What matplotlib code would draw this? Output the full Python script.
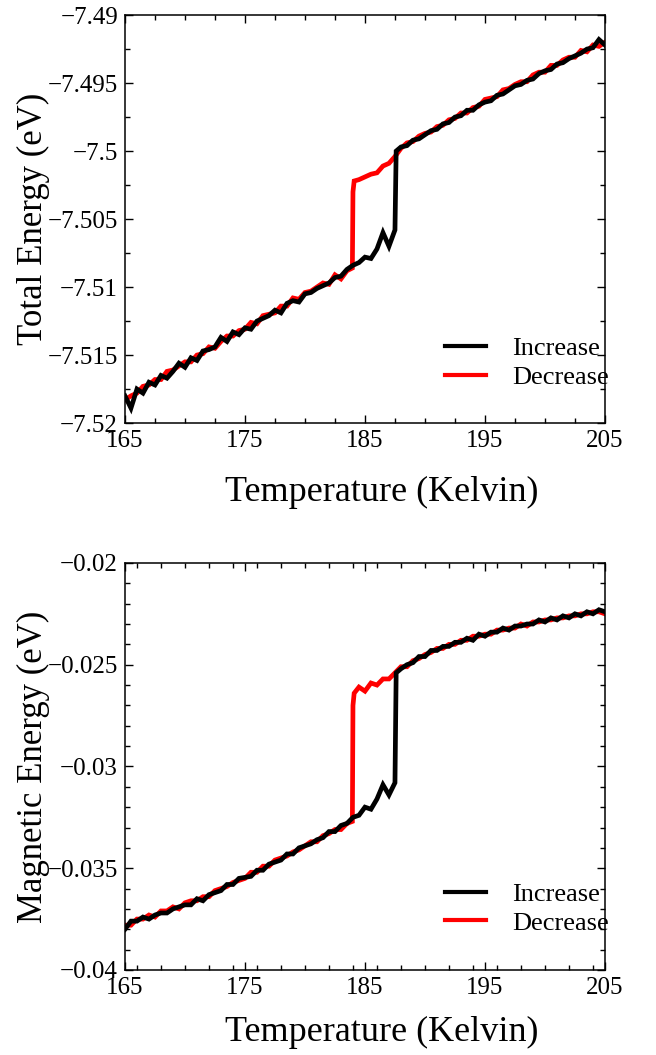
import matplotlib
matplotlib.use("Agg")
import matplotlib.pyplot as plt
import numpy as np
from matplotlib.ticker import MultipleLocator, FuncFormatter

plt.rcParams['font.family'] = ['Liberation Serif', 'DejaVu Serif']

# temperature grids (K)
t_low_inc = np.arange(165.0, 188.0, 0.5)          # 165 .. 187.5
t_up_inc = np.arange(188.0, 205.5, 0.5)           # 188 .. 205
t_jump_inc = 187.6

t_low_dec = np.arange(165.0, 184.0, 0.5)          # 165 .. 183.5
t_mid_dec = [183.95, 184.0, 184.1, 184.5, 185.0, 185.5, 186.0, 186.5, 187.0, 187.5]
t_up_dec = np.arange(188.0, 205.5, 0.5)

# ---- total energy (eV) ----
e_inc_low = [-7.5180, -7.5189, -7.5175, -7.5178, -7.5170, -7.5172, -7.5165, -7.5167,
             -7.5162, -7.5156, -7.5159, -7.5152, -7.5154, -7.5147, -7.5146, -7.5144,
             -7.5137, -7.5140, -7.5133, -7.5135, -7.5130, -7.5131, -7.5125, -7.5123,
             -7.5121, -7.5117, -7.5119, -7.5112, -7.5110, -7.5111, -7.5105, -7.5104,
             -7.5101, -7.5099, -7.5097, -7.5093, -7.5092, -7.5087, -7.5084, -7.5082,
             -7.5078, -7.5079, -7.5072, -7.5060, -7.5070, -7.5058]
e_inc_jump = -7.5000
e_inc_up = [-7.4997, -7.4996, -7.4992, -7.4991, -7.4988, -7.4985, -7.4984, -7.4980,
            -7.4979, -7.4975, -7.4974, -7.4970, -7.4970, -7.4966, -7.4964, -7.4963,
            -7.4959, -7.4958, -7.4955, -7.4952, -7.4951, -7.4948, -7.4947, -7.4943,
            -7.4941, -7.4940, -7.4936, -7.4935, -7.4932, -7.4930, -7.4928, -7.4925,
            -7.4924, -7.4918, -7.4922]

e_dec_low = [-7.5183, -7.5180, -7.5178, -7.5173, -7.5172, -7.5168, -7.5168, -7.5162,
             -7.5161, -7.5158, -7.5155, -7.5155, -7.5150, -7.5149, -7.5144, -7.5145,
             -7.5140, -7.5136, -7.5136, -7.5132, -7.5131, -7.5126, -7.5127, -7.5121,
             -7.5120, -7.5119, -7.5114, -7.5114, -7.5108, -7.5109, -7.5104, -7.5103,
             -7.5100, -7.5097, -7.5098, -7.5091, -7.5094, -7.5088]
e_dec_mid = [-7.5086, -7.5030, -7.5022, -7.5021, -7.5019, -7.5017, -7.5016, -7.5011,
             -7.5009, -7.5004]
e_dec_up = [-7.4998, -7.4994, -7.4993, -7.4989, -7.4987, -7.4986, -7.4982, -7.4981,
            -7.4977, -7.4976, -7.4972, -7.4972, -7.4968, -7.4967, -7.4962, -7.4961,
            -7.4960, -7.4955, -7.4954, -7.4951, -7.4949, -7.4949, -7.4944, -7.4942,
            -7.4942, -7.4937, -7.4937, -7.4933, -7.4931, -7.4931, -7.4926, -7.4927,
            -7.4922, -7.4923, -7.4920]

# ---- magnetic energy (eV) ----
m_inc_low = [-0.0380, -0.0376, -0.0376, -0.0374, -0.0375, -0.0373, -0.0372, -0.0372,
             -0.0370, -0.0369, -0.0368, -0.0368, -0.0365, -0.0366, -0.0363, -0.0362,
             -0.0361, -0.0358, -0.0358, -0.0355, -0.03545, -0.0354, -0.0351, -0.0351,
             -0.0348, -0.0347, -0.0346, -0.0343, -0.0343, -0.0340, -0.0339, -0.0338,
             -0.0336, -0.0335, -0.0332, -0.0332, -0.0329, -0.0328, -0.0325, -0.0324,
             -0.0320, -0.0321, -0.0316, -0.0309, -0.0314, -0.0308]
m_inc_jump = -0.0254
m_inc_up = [-0.0252, -0.0250, -0.0249, -0.0246, -0.0246, -0.0243, -0.0243, -0.0241,
            -0.0241, -0.0239, -0.0239, -0.0237, -0.0238, -0.0235, -0.0236, -0.0234,
            -0.0234, -0.0232, -0.0233, -0.0231, -0.0231, -0.0230, -0.0230, -0.0228,
            -0.0229, -0.0227, -0.0228, -0.0226, -0.0227, -0.0225, -0.0226, -0.0224,
            -0.0225, -0.0223, -0.0224]

m_dec_low = [-0.0378, -0.0378, -0.0375, -0.0375, -0.0373, -0.0374, -0.0371, -0.0371,
             -0.0369, -0.0370, -0.0367, -0.0366, -0.0366, -0.0364, -0.0364, -0.0361,
             -0.0360, -0.0359, -0.0357, -0.0356, -0.0355, -0.0352, -0.0352, -0.0349,
             -0.0349, -0.0346, -0.0345, -0.0344, -0.0342, -0.0341, -0.0339, -0.0337,
             -0.0337, -0.0334, -0.0333, -0.0331, -0.0331, -0.0328]
m_dec_mid = [-0.0327, -0.0270, -0.0264, -0.0261, -0.0263, -0.0259, -0.0260, -0.0257,
             -0.0257, -0.0254]
m_dec_up = [-0.0251, -0.0251, -0.0248, -0.0247, -0.0245, -0.0244, -0.0242, -0.0242,
            -0.0240, -0.0240, -0.0238, -0.0238, -0.0236, -0.0236, -0.0235, -0.0235,
            -0.0233, -0.0233, -0.0232, -0.0232, -0.0230, -0.0231, -0.0229, -0.0229,
            -0.0228, -0.0228, -0.0227, -0.0227, -0.0226, -0.0226, -0.0225, -0.0225,
            -0.0224, -0.0224, -0.0225]

x_ticks = [165, 175, 185, 195, 205]


def fmt(v, pos):
    return ("%g" % round(v, 6)).replace("-", "\u2212")


def panel(ax, inc, dec, ylim, ystep, yminor, xminor, ylabel, leg_y, xpad):
    t_inc = np.concatenate([t_low_inc, [t_jump_inc], t_up_inc])
    t_dec = np.concatenate([t_low_dec, t_mid_dec, t_up_dec])
    ax.plot(t_dec, dec, color="#ff0000", lw=3.4, solid_joinstyle="miter")
    ax.plot(t_inc, inc, color="black", lw=3.4, solid_joinstyle="miter")
    ax.set_xlim(165, 205)
    ax.set_ylim(*ylim)
    ax.set_xticks(x_ticks)
    ax.xaxis.set_minor_locator(MultipleLocator(xminor))
    ax.yaxis.set_major_locator(MultipleLocator(ystep))
    ax.yaxis.set_minor_locator(MultipleLocator(yminor))
    ax.yaxis.set_major_formatter(FuncFormatter(fmt))
    ax.tick_params(which="both", direction="in", top=True, right=True, labelsize=18, width=1)
    ax.tick_params(which="major", length=6, pad=5)
    ax.tick_params(which="minor", length=3.5)
    for s in ax.spines.values():
        s.set_linewidth(1.1)
    ax.set_xlabel("Temperature (Kelvin)", fontsize=26, labelpad=xpad, x=0.535)
    ax.set_ylabel(ylabel, fontsize=25, labelpad=-1.5)
    h1, = ax.plot([], [], color="black", lw=3)
    h2, = ax.plot([], [], color="#ff0000", lw=3)
    ax.legend([h1, h2], ["Increase", "Decrease"], loc="center left",
              bbox_to_anchor=(0.667, leg_y), frameon=False, fontsize=19,
              handlelength=1.55, handletextpad=1.0, borderpad=0, borderaxespad=0,
              labelspacing=0.2)


fig = plt.figure(figsize=(6.56, 10.55), dpi=100)
ax1 = fig.add_axes([0.1905, 0.599, 0.7317, 0.3867])
ax2 = fig.add_axes([0.1905, 0.0806, 0.7317, 0.3858])

panel(ax1,
      np.concatenate([e_inc_low, [e_inc_jump], e_inc_up]),
      np.concatenate([e_dec_low, e_dec_mid, e_dec_up]),
      (-7.52, -7.49), 0.005, 0.0025, 2.5, "Total Energy (eV)", 0.147, 17)
panel(ax2,
      np.concatenate([m_inc_low, [m_inc_jump], m_inc_up]),
      np.concatenate([m_dec_low, m_dec_mid, m_dec_up]),
      (-0.04, -0.02), 0.005, 0.001, 2, "Magnetic Energy (eV)", 0.151, 12.5)

fig.savefig("out.png", dpi=100)
